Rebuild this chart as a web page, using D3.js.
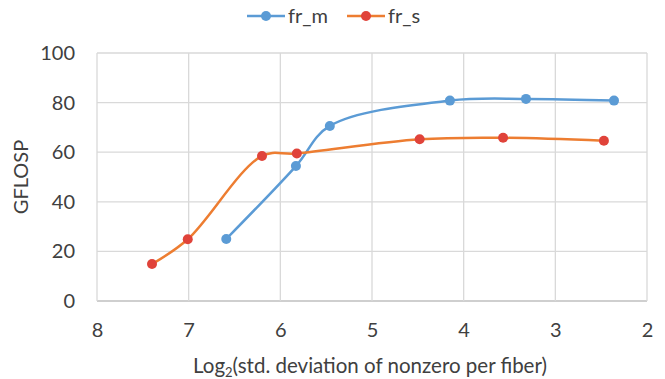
<!DOCTYPE html>
<html>
<head>
<meta charset="utf-8">
<script src="https://cdn.jsdelivr.net/npm/d3@7"></script>
<style>
  body { margin: 0; background: #fff; }
  text { font-family: Lato, "Open Sans", sans-serif; fill: #404040; }
</style>
</head>
<body>
<svg></svg>
<script>
// data
const frM_x = [6.59, 5.83, 5.46, 4.15, 3.32, 2.36];
const frM_y = [25.0, 54.4, 70.6, 80.8, 81.5, 80.8];
const frS_x = [7.40, 7.01, 6.20, 5.82, 4.48, 3.57, 2.47];
const frS_y = [14.9, 24.9, 58.5, 59.5, 65.2, 65.8, 64.6];
const xTicks = [8, 7, 6, 5, 4, 3, 2];
const yTicks = [0, 20, 40, 60, 80, 100];

const series = [
    {name: 'fr_m', line: '#5B9BD5', dot: '#5B9BD5', x: frM_x, y: frM_y},
    {name: 'fr_s', line: '#ED7D31', dot: '#E0433A', x: frS_x, y: frS_y}
];

const W = 665, H = 379;
const margins = {t: 53, r: 18, b: 78, l: 97};
const size = {w: W - margins.l - margins.r, h: H - margins.t - margins.b};
const fontSize = 20;

const svg = d3.select('svg').attr('width', W).attr('height', H);
const g = svg.append('g').attr('transform', `translate(${margins.l}, ${margins.t})`);

const scaleX = d3.scaleLinear().domain([8, 2]).range([0, size.w]);
const scaleY = d3.scaleLinear().domain([0, 100]).range([size.h, 0]);

// gridlines
g.selectAll('.gy').data(yTicks).join('line')
    .attr('x1', 0).attr('x2', size.w)
    .attr('y1', d => scaleY(d)).attr('y2', d => scaleY(d))
    .attr('stroke', d => d === 0 ? '#BFBFBF' : '#D9D9D9').attr('stroke-width', 1.3);
g.selectAll('.gx').data(xTicks).join('line')
    .attr('y1', 0).attr('y2', size.h)
    .attr('x1', d => scaleX(d)).attr('x2', d => scaleX(d))
    .attr('stroke', '#D9D9D9').attr('stroke-width', 1.3);

// axes (labels only)
const axisX = g.append('g')
    .attr('transform', `translate(0, ${size.h})`)
    .call(d3.axisBottom(scaleX).tickValues(xTicks).tickFormat(d3.format('d')).tickSize(0).tickPadding(22));
const axisY = g.append('g')
    .call(d3.axisLeft(scaleY).tickValues(yTicks).tickFormat(d3.format('d')).tickSize(0).tickPadding(22));
[axisX, axisY].forEach(a => {
    a.select('.domain').remove();
    a.selectAll('text').attr('font-size', fontSize).attr('font-family', 'Lato, sans-serif').attr('fill', '#404040');
});

// lines
const line = d3.line()
    .x(d => scaleX(d[0]))
    .y(d => scaleY(d[1]))
    .curve(d3.curveCatmullRom.alpha(0.5));

series.forEach(s => {
    const pts = s.x.map((v, i) => [v, s.y[i]]);
    g.append('path')
        .attr('d', line(pts))
        .attr('fill', 'none')
        .attr('stroke', s.line)
        .attr('stroke-width', 2.5);
    g.selectAll(null).data(pts).join('circle')
        .attr('cx', d => scaleX(d[0]))
        .attr('cy', d => scaleY(d[1]))
        .attr('r', 5)
        .attr('fill', s.dot);
});

// axis titles
svg.append('text')
    .attr('transform', `translate(28, ${margins.t + size.h / 2}) rotate(-90)`)
    .attr('text-anchor', 'middle')
    .attr('font-size', fontSize)
    .text('GFLOSP');

const xt = svg.append('text')
    .attr('x', 370)
    .attr('y', 373)
    .attr('text-anchor', 'middle')
    .attr('font-size', 20.5);
xt.append('tspan').text('Log');
xt.append('tspan').attr('font-size', 13).attr('dy', 4).text('2');
xt.append('tspan').attr('dy', -4).text('(std. deviation of nonzero per fiber)');

// legend
const legend = svg.append('g').attr('transform', 'translate(247, 16)');
const items = legend.selectAll('g').data(series).join('g')
    .attr('transform', (d, i) => `translate(${i * 100}, 0)`);
items.append('line')
    .attr('x1', 0).attr('x2', 38)
    .attr('stroke', d => d.line).attr('stroke-width', 2.5);
items.append('circle')
    .attr('cx', 19).attr('r', 5).attr('fill', d => d.dot);
items.append('text')
    .attr('x', 41).attr('dy', '0.35em')
    .attr('font-size', fontSize)
    .text(d => d.name);
</script>
</body>
</html>
